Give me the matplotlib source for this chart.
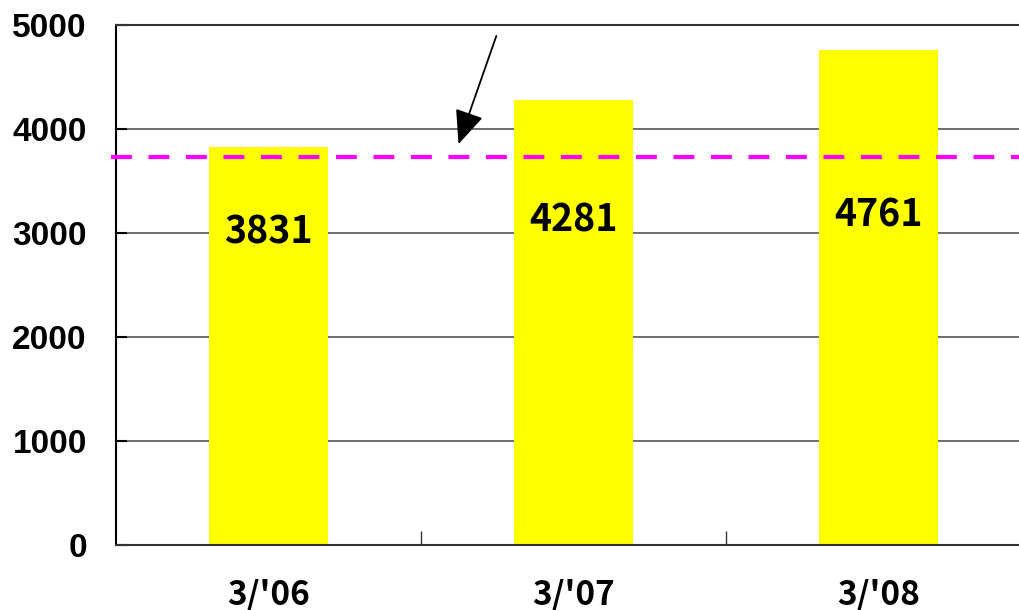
import matplotlib.pyplot as plt

categories = ["3/'06", "3/'07", "3/'08"]
values = [3831, 4281, 4761]
target = 3730
label_y = [3010, 3125, 3170]

jp = ["Noto Sans CJK JP", "DejaVu Sans"]

fig = plt.figure(figsize=(10.2, 6.1), dpi=100)
# axes runs past the right edge, like the source
ax = fig.add_axes([116 / 1020, 65 / 610, 915 / 1020, 520 / 610])

x = range(len(categories))
ax.bar(x, values, width=0.39, color="#ffff00", zorder=2)

for xi, v, ly in zip(x, values, label_y):
    ax.text(xi, ly, str(v), ha="center", va="center", fontsize=27,
            fontweight="bold", family=jp, zorder=4)

ax.set_xlim(-0.5, 2.5)
ax.set_ylim(0, 5000)
ax.set_yticks(range(0, 5001, 1000))
ax.yaxis.grid(True, color="#555555", linewidth=1.2, zorder=1)
ax.set_axisbelow(True)

# dashed reference line + arrow
ax.hlines(target, -0.515, 2.5, colors="#ff00ff", linestyles=(0, (5, 4)),
          linewidth=3, zorder=3, clip_on=False)
ax.annotate("", xy=(0.62, target + 100), xytext=(0.75, 4920),
            arrowprops=dict(arrowstyle="-|>,head_length=0.7,head_width=0.3",
                            color="black", lw=1.3, mutation_scale=30),
            zorder=5)

ax.set_xticks([0.5, 1.5])
ax.set_xticklabels([])
ax.tick_params(axis="x", direction="in", length=10, width=1, color="#333333")
ax.tick_params(axis="y", direction="in", length=8, width=1.5, pad=21)
for lbl in ax.get_yticklabels():
    lbl.set_fontsize(24)
    lbl.set_fontweight("bold")
    lbl.set_family("Liberation Sans")

for xi, c in zip(x, categories):
    ax.text(xi, -480, c, ha="center", va="center", fontsize=24,
            fontweight="bold", family=jp, clip_on=False)

ax.spines["right"].set_visible(False)
ax.spines["top"].set_color("#333333")
ax.spines["top"].set_linewidth(1.5)
ax.spines["left"].set_linewidth(1.5)
ax.spines["bottom"].set_color("#333333")
ax.spines["bottom"].set_linewidth(1.5)

fig.savefig("out.png", dpi=100)
